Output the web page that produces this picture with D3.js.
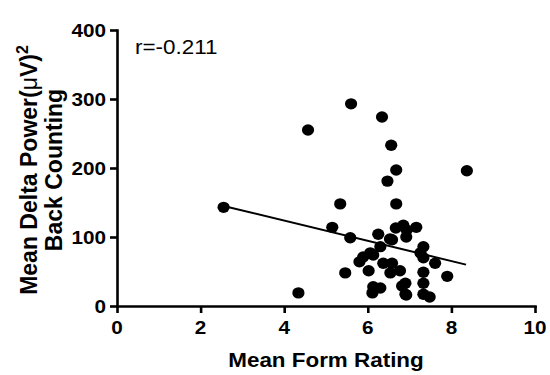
<html>
<head>
<script src="https://cdnjs.cloudflare.com/ajax/libs/d3/7.8.5/d3.min.js"></script>
<style>
  body { margin: 0; background: #fff; }
  text { font-family: "Liberation Sans", Arial, sans-serif; fill: #000; }
  .axis path, .axis line { stroke: #000; stroke-width: 2.6; }
</style>
</head>
<body>
<svg id="chart" width="550" height="375"></svg>
<script>
// form rating (x) vs mean delta power (y)
var formRating = [2.55, 4.34, 4.57, 5.60, 6.34, 6.56, 6.68, 6.47, 8.37, 5.34,
                  6.68, 5.15, 5.58, 6.25, 6.58, 6.85, 6.92, 7.16, 6.30, 6.13,
                  5.80, 6.02, 6.37, 6.58, 6.77, 6.54, 5.46, 6.13, 6.30, 6.11,
                  6.82, 6.92, 7.33, 7.33, 7.61, 7.90, 7.33, 7.33, 6.90, 6.90,
                  7.33, 7.48, 7.26, 6.67, 6.93, 6.53, 5.89, 6.06];
var deltaPower = [143, 19, 255, 293, 274, 233, 197, 181, 196, 148,
                  148, 114, 99, 104, 96, 117, 100, 114, 86, 74,
                  64, 51, 62, 62, 51, 48, 48, 28, 26, 19,
                  29, 16, 86, 70, 62, 43, 49, 33, 33, 17,
                  17, 13, 77, 113, 110, 97, 71, 77];
var fitX = [2.55, 8.35];
var fitY = [145, 60];
var xTicks = [0, 2, 4, 6, 8, 10];
var yTicks = [0, 100, 200, 300, 400];

var sx = 1.15; // horizontal text looks a little wide in the original
var svg = d3.select("#chart");
var x = d3.scaleLinear().domain([0, 10]).range([117, 535]);
var y = d3.scaleLinear().domain([0, 400]).range([306, 30]);

svg.append("g").attr("class", "axis")
    .attr("transform", "translate(0,306)")
    .call(d3.axisBottom(x).tickValues(xTicks).tickSize(7).tickSizeOuter(0));
svg.append("g").attr("class", "axis")
    .attr("transform", "translate(117,0)")
    .call(d3.axisLeft(y).tickValues(yTicks).tickSize(7).tickSizeOuter(0));

svg.selectAll(".axis .tick text").remove();
svg.selectAll(".axis path").attr("stroke-linecap", "square");

// tick labels
svg.append("g").selectAll("text").data(xTicks).enter().append("text")
    .attr("transform", d => "translate(" + x(d) + ",334) scale(" + sx + ",1)")
    .attr("text-anchor", "middle").style("font-size", "18px").style("font-weight", "bold")
    .text(d => d);
svg.append("g").selectAll("text").data(yTicks).enter().append("text")
    .attr("transform", d => "translate(106," + (y(d) + 6.5) + ") scale(" + sx + ",1)")
    .attr("text-anchor", "end").style("font-size", "18px").style("font-weight", "bold")
    .text(d => d);

// regression line
svg.append("line")
    .attr("x1", x(fitX[0])).attr("y1", y(fitY[0]))
    .attr("x2", x(fitX[1])).attr("y2", y(fitY[1]))
    .attr("stroke", "#000").attr("stroke-width", 2);

svg.append("g").selectAll("ellipse").data(formRating).enter().append("ellipse")
    .attr("cx", (d, i) => x(d))
    .attr("cy", (d, i) => y(deltaPower[i]))
    .attr("rx", 6.1).attr("ry", 5.7)
    .attr("fill", "#000");

svg.append("text")
    .attr("transform", "translate(135,54) scale(" + sx + ",1)")
    .style("font-size", "19.5px")
    .text("r=-0.211");

svg.append("text")
    .attr("transform", "translate(326,367) scale(" + sx + ",1)")
    .attr("text-anchor", "middle").style("font-size", "19.5px").style("font-weight", "bold")
    .text("Mean Form Rating");

var yl1 = svg.append("text")
    .attr("transform", "translate(37,170) rotate(-90)")
    .attr("text-anchor", "middle").style("font-size", "23px").style("font-weight", "bold");
yl1.append("tspan").text("Mean Delta Power(");
yl1.append("tspan").style("font-weight", "normal").text("\u03bc");
yl1.append("tspan").text("V)");
yl1.append("tspan").attr("dy", -9).style("font-size", "16px").text("2");

svg.append("text")
    .attr("transform", "translate(62,170) rotate(-90)")
    .attr("text-anchor", "middle").style("font-size", "23px").style("font-weight", "bold")
    .text("Back Counting");
</script>
</body>
</html>
